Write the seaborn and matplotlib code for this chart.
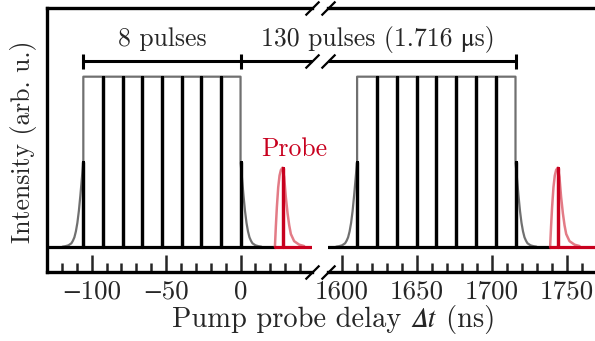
import matplotlib
matplotlib.use("Agg")
import matplotlib.pyplot as plt
import seaborn as sns
import pandas as pd
from matplotlib.ticker import MultipleLocator, FuncFormatter
from matplotlib.transforms import blended_transform_factory

# ---- data -----------------------------------------------------------------
# pump pulse arrival times (ns), first burst and last burst of the train
train_left = [-105.6, -92.4, -79.2, -66.0, -52.8, -39.6, -26.4, -13.2, 0.0]
train_right = [1610.4, 1623.6, 1636.8, 1650.0, 1663.2, 1676.4, 1689.6, 1702.8, 1716.0]
pulse_height = [0.5, 1.0, 1.0, 1.0, 1.0, 1.0, 1.0, 1.0, 0.5]

# probe pulse times (ns) and amplitude
probe_time = [28.2, 1744.2]
probe_height = 0.465

# falling edge of the pump envelope (offset from edge in ns, level)
tail_offset = [0, 1, 2, 3, 4, 5, 6, 7, 8, 10, 12, 14]
tail_level = [0.50, 0.40, 0.30, 0.21, 0.14, 0.09, 0.055, 0.035, 0.02, 0.008, 0.003, 0.0]

# probe temporal profile (offset from peak in ns, relative level)
probe_offset = [-5.1, -4.5, -3.8, -2.9, -2.0, -1.1, 0.0, 1.1, 2.2, 3.4, 4.5, 5.6, 7.8, 11.2, 14.5]
probe_level = [0.0, 0.25, 0.50, 0.75, 0.90, 0.97, 1.0, 0.88, 0.63, 0.42, 0.27, 0.16, 0.07, 0.025, 0.008]

xlim_left = (-130, 48)
xlim_right = (1591, 1769)
ylim = (-0.146, 1.404)
bracket_y = 1.092

# ---- style ------------------------------------------------------------------
sns.set_style("white")
plt.rcParams["font.family"] = ["cmr10", "STIXGeneral", "DejaVu Serif"]
plt.rcParams["mathtext.fontset"] = "cm"
FS = 18.5
FS_TICK = 19.5
FS_XLABEL = 20.5

PUMP = "black"
ENV = "#707070"
RED = "#c8001e"
LIGHT_RED = "#dc5a68"

fig = plt.figure(figsize=(5.95, 3.41), dpi=100)
W, H = 595, 341
ax1 = fig.add_axes([47 / W, (H - 271.5) / H, 265 / W, 263.5 / H])
ax2 = fig.add_axes([328 / W, (H - 271.5) / H, 267 / W, 263.5 / H])


def envelope_frame(times):
    """Smoothed rectangular envelope of the pump burst."""
    t0, t1 = times[0], times[-1]
    xs = [t0 - o for o in tail_offset[::-1]] + [t0, t0, t1, t1] + [t1 + o for o in tail_offset]
    ys = tail_level[::-1] + [tail_level[0], 1.0, 1.0, tail_level[0]] + tail_level
    return pd.DataFrame({"t": xs, "I": ys})


def pulses_frame(times, xstart, xend):
    xs, ys = [xstart], [0.0]
    for t, h in zip(times, pulse_height):
        xs += [t, t, t]
        ys += [0.0, h, 0.0]
    xs.append(xend)
    ys.append(0.0)
    return pd.DataFrame({"t": xs, "I": ys})


def probe_frames(tp, xend):
    start = tp + probe_offset[0]
    spike = pd.DataFrame({"t": [start, tp, tp, tp, xend],
                          "I": [0.0, 0.0, probe_height, 0.0, 0.0]})
    shape = pd.DataFrame({"t": [tp + o for o in probe_offset],
                          "I": [probe_height * v for v in probe_level]})
    return spike, shape


tick_fmt = FuncFormatter(lambda v, pos: f"{v:g}".replace("-", "\u2212"))

for ax, times, tp, xl in [(ax1, train_left, probe_time[0], xlim_left),
                          (ax2, train_right, probe_time[1], xlim_right)]:
    env = envelope_frame(times)
    sns.lineplot(data=env, x="t", y="I", sort=False, estimator=None,
                 color=ENV, lw=1.6, ax=ax)
    pul = pulses_frame(times, xl[0], tp + probe_offset[0])
    sns.lineplot(data=pul, x="t", y="I", sort=False, estimator=None,
                 color=PUMP, lw=2.3, ax=ax)
    spike, shape = probe_frames(tp, xl[1])
    sns.lineplot(data=shape, x="t", y="I", sort=False, estimator=None,
                 color=LIGHT_RED, lw=1.8, alpha=0.8, ax=ax)
    sns.lineplot(data=spike, x="t", y="I", sort=False, estimator=None,
                 color=RED, lw=2.3, ax=ax)

    ax.set_xlim(*xl)
    ax.set_ylim(*ylim)
    ax.set_xlabel("")
    ax.set_ylabel("")
    ax.set_yticks([])
    ax.xaxis.set_major_locator(MultipleLocator(50))
    ax.xaxis.set_minor_locator(MultipleLocator(10))
    ax.xaxis.set_major_formatter(tick_fmt)
    ax.tick_params(axis="x", which="major", direction="in", length=12, width=1.8,
                   labelsize=FS_TICK, pad=6, bottom=True, top=False)
    ax.tick_params(axis="x", which="minor", direction="in", length=6.5, width=1.8,
                   bottom=True, top=False)
    for s in ax.spines.values():
        s.set_linewidth(2.4)
        s.set_color("black")
    ax.patch.set_alpha(0)

ax1.spines["right"].set_visible(False)
ax2.spines["left"].set_visible(False)
ax2.spines["right"].set_visible(False)

# bracket marking the pulse train
tick_h = 0.044
ax1.plot([train_left[0], xlim_left[1]], [bracket_y, bracket_y], color="black", lw=2.2,
         solid_capstyle="butt", clip_on=False)
ax2.plot([xlim_right[0], train_right[-1]], [bracket_y, bracket_y], color="black", lw=2.2,
         solid_capstyle="butt", clip_on=False)
for ax, x in [(ax1, train_left[0]), (ax1, train_left[-1]), (ax2, train_right[-1])]:
    ax.plot([x, x], [bracket_y - tick_h, bracket_y + tick_h], color="black", lw=2.2,
            solid_capstyle="butt", clip_on=False)

# axis break marks
slash = dict(marker=[(-1, -1), (1, 1)], markersize=10, linestyle="none",
             color="black", mec="black", mew=1.6, clip_on=False)
for ax, xa in [(ax1, 1.0), (ax2, 0.0)]:
    ax.plot([xa, xa], [0, 1], transform=ax.transAxes, **slash)
    tr = blended_transform_factory(ax.transAxes, ax.transData)
    ax.plot([xa], [bracket_y], transform=tr, **slash)

# annotations
ax1.text((train_left[0] + train_left[-1]) / 2, 1.18, "8 pulses", ha="center",
         va="baseline", fontsize=FS)
fig.canvas.draw()
px0 = ax1.transData.transform((train_left[-1], 0))[0]
px1 = ax2.transData.transform((train_right[-1], 0))[0]
fig.text((px0 + px1) / 2 / W, (H - 45.7) / H, "130 pulses (1.716 \u03bcs)", ha="center",
         va="baseline", fontsize=FS)
ax1.text(35.8, 0.533, "Probe", color=RED, ha="center", va="baseline",
         fontsize=FS, clip_on=False)

fig.text(334 / W, (H - 327) / H, "Pump probe delay \U0001D6E5\U0001D461 (ns)", ha="center",
         va="baseline", fontsize=FS_XLABEL)
fig.text(24 / W, (H - 142) / H, "Intensity (arb. u.)", rotation=90, ha="center",
         va="center", fontsize=FS)

fig.savefig("out.png", dpi=100)
